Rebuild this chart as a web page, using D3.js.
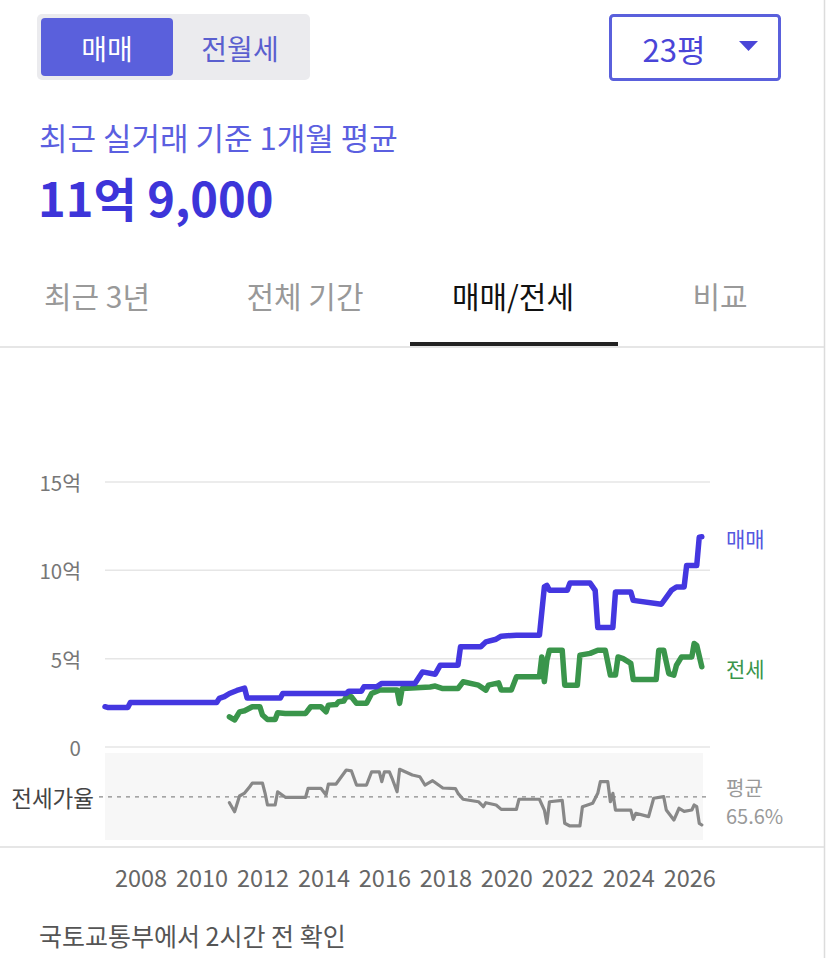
<!DOCTYPE html>
<html><head><meta charset="utf-8">
<script src="https://cdn.jsdelivr.net/npm/d3@7"></script>
<style>
html,body{margin:0;padding:0;background:#fff;}
svg{display:block;font-family:"Noto Sans CJK KR","Noto Sans",sans-serif;}
</style></head>
<body>
<svg id="chart" width="827" height="958"></svg>
<script>
// ---- data ----
const saleData = [
  ["2006-11",2.28],["2006-12",2.24],["2007-08",2.24],["2007-09",2.52],["2010-07",2.52],
  ["2010-08",2.75],["2010-10",2.85],["2010-12",3.03],["2011-03",3.20],["2011-06",3.33],
  ["2011-07",2.77],["2012-08",2.77],["2012-09",3.03],["2014-10",3.03],["2014-11",3.16],
  ["2015-04",3.16],["2015-05",3.41],["2015-10",3.41],["2015-12",3.60],["2017-01",3.60],
  ["2017-04",4.25],["2017-09",4.12],["2017-11",4.63],["2018-06",4.63],["2018-07",5.67],
  ["2019-03",5.67],["2019-05",5.95],["2019-09",6.10],["2019-11",6.27],["2020-05",6.33],
  ["2021-02",6.33],["2021-04",9.06],["2021-05",9.15],["2021-06",8.87],["2022-01",8.87],
  ["2022-02",9.28],["2022-10",9.28],["2022-12",8.87],["2023-01",6.76],["2023-07",6.76],
  ["2023-08",8.77],["2024-02",8.77],["2024-03",8.30],["2025-02",8.08],["2025-06",8.87],
  ["2025-08",9.06],["2025-11",9.06],["2025-12",10.28],["2026-04",10.28],["2026-05",11.88],
  ["2026-06",11.90]
];
const jeonseData = [
  ["2010-12",1.71],["2011-02",1.53],["2011-04",1.99],["2011-06",2.05],["2011-09",2.28],
  ["2011-12",2.28],["2012-01",1.81],["2012-03",1.56],["2012-06",1.56],["2012-07",1.94],
  ["2012-10",1.90],["2013-06",1.90],["2013-08",2.28],["2013-12",2.28],["2014-02",1.99],
  ["2014-03",2.37],["2014-06",2.40],["2014-07",2.56],["2014-09",2.60],["2014-10",2.84],
  ["2014-12",2.84],["2015-02",2.47],["2015-06",2.47],["2015-08",3.03],["2015-11",3.22],
  ["2016-06",3.22],["2016-07",2.47],["2016-08",3.31],["2017-07",3.40],["2017-09",3.45],
  ["2017-12",3.31],["2018-06",3.31],["2018-08",3.69],["2019-02",3.50],["2019-05",3.22],
  ["2019-06",3.50],["2019-10",3.63],["2019-11",3.22],["2020-03",3.22],["2020-05",3.97],
  ["2021-02",3.97],["2021-03",5.10],["2021-04",3.70],["2021-05",4.90],["2021-06",5.48],
  ["2021-11",5.48],["2021-12",3.50],["2022-05",3.50],["2022-06",5.20],["2022-10",5.30],
  ["2023-01",5.48],["2023-04",5.48],["2023-06",4.07],["2023-08",4.07],["2023-09",5.10],
  ["2023-11",5.00],["2024-02",4.73],["2024-03",3.82],["2024-12",3.82],["2025-01",5.48],
  ["2025-03",5.48],["2025-05",4.16],["2025-07",4.07],["2025-08",4.63],["2025-10",5.10],
  ["2026-02",5.10],["2026-03",5.86],["2026-04",5.75],["2026-06",4.54]
];
const ratioData = [
  ["2010-12",59.7],["2011-02",50.6],["2011-04",66.5],["2011-06",69.5],["2011-08",75.9],
  ["2011-09",79.6],["2012-01",79.6],["2012-02",69.5],["2012-03",57.4],["2012-06",57.4],
  ["2012-07",70.8],["2012-10",65.2],["2013-06",65.2],["2013-07",74.3],["2013-12",74.3],
  ["2014-02",67.5],["2014-03",78.6],["2014-06",78.6],["2014-10",92.8],["2014-12",92.0],
  ["2015-02",77.6],["2015-06",77.6],["2015-08",91.0],["2015-11",91.0],["2015-12",81.0],
  ["2016-01",91.0],["2016-03",91.0],["2016-04",84.7],["2016-06",70.8],["2016-07",93.5],
  ["2016-12",87.7],["2017-03",86.0],["2017-05",77.6],["2017-08",82.0],["2017-12",74.6],
  ["2018-05",74.0],["2018-06",69.2],["2018-08",63.2],["2019-02",60.7],["2019-04",55.7],
  ["2019-05",59.7],["2019-09",57.4],["2019-11",53.0],["2020-05",53.0],["2020-06",63.2],
  ["2021-02",63.2],["2021-04",52.3],["2021-05",38.9],["2021-06",60.7],["2021-11",62.0],
  ["2021-12",38.9],["2022-02",36.2],["2022-06",36.2],["2022-07",55.7],["2022-11",59.1],
  ["2023-01",69.2],["2023-02",81.0],["2023-05",81.0],["2023-06",60.7],["2023-07",69.2],
  ["2023-08",52.3],["2024-02",52.3],["2024-03",42.9],["2024-04",49.0],["2024-09",45.6],
  ["2024-11",64.2],["2025-03",65.8],["2025-04",52.3],["2025-07",42.2],["2025-09",54.1],
  ["2025-11",51.0],["2026-02",52.3],["2026-03",57.4],["2026-04",55.7],["2026-05",38.9],
  ["2026-06",37.2]
];
const ratioAverage = 65.6;
const yTicks = [0, 5, 10, 15];
const yTickLabels = ["0", "5억", "10억", "15억"];
const xTickYears = [2008, 2010, 2012, 2014, 2016, 2018, 2020, 2022, 2024, 2026];
const toggleLabels = ["매매", "전월세"];
const tabLabels = ["최근 3년", "전체 기간", "매매/전세", "비교"];
const sizeLabel = "23평";
const subtitle = "최근 실거래 기준 1개월 평균";
const headline = "11억 9,000";
const footer = "국토교통부에서 2시간 전 확인";

// ---- drawing ----
const parse = d3.timeParse("%Y-%m");
const sale = saleData.map(d => ({date: parse(d[0]), v: d[1]}));
const jeonse = jeonseData.map(d => ({date: parse(d[0]), v: d[1]}));
const ratio = ratioData.map(d => ({date: parse(d[0]), v: d[1]}));

const svg = d3.select("#chart");
const BLUE = "#4437e0", GREEN = "#3a954b", ACCENT = "#5a60dc";

// right border
svg.append("line").attr("x1",824.5).attr("x2",824.5).attr("y1",0).attr("y2",958)
  .attr("stroke","#dcdcdc").attr("stroke-width",1.5);

// toggle
svg.append("rect").attr("x",37).attr("y",14).attr("width",273).attr("height",66).attr("rx",5).attr("fill","#ebebee");
svg.append("rect").attr("x",41).attr("y",18).attr("width",132).attr("height",58).attr("rx",4).attr("fill",ACCENT);
svg.append("text").attr("x",107).attr("y",48).attr("text-anchor","middle").attr("dominant-baseline","central")
  .attr("font-size",28).attr("fill","#fff").text(toggleLabels[0]);
svg.append("text").attr("x",240).attr("y",48).attr("text-anchor","middle").attr("dominant-baseline","central")
  .attr("font-size",28).attr("fill","#5a5fcf").text(toggleLabels[1]);

// dropdown
svg.append("rect").attr("x",610.5).attr("y",15.5).attr("width",169).attr("height",64).attr("rx",3)
  .attr("fill","#fff").attr("stroke",ACCENT).attr("stroke-width",3);
svg.append("text").attr("x",674).attr("y",48).attr("text-anchor","middle").attr("dominant-baseline","central")
  .attr("font-size",31).attr("fill","#4a45d8").text(sizeLabel);
svg.append("path").attr("d","M739,41 L758,41 L748.5,51 Z").attr("fill","#4a45d8");

// subtitle & headline
svg.append("text").attr("x",39).attr("y",136).attr("dominant-baseline","central")
  .attr("font-size",31).attr("fill","#5b5fe0").text(subtitle);
svg.append("text").attr("x",38).attr("y",217).attr("font-size",47).attr("font-weight",700)
  .attr("fill","#3d35d9").text(headline);

// tabs
const tabX = [97, 305, 513, 720];
tabLabels.forEach((t,i) => {
  svg.append("text").attr("x",tabX[i]).attr("y",295).attr("text-anchor","middle").attr("dominant-baseline","central")
    .attr("font-size",30).attr("fill", i===2 ? "#111" : "#999").text(t);
});
svg.append("line").attr("x1",0).attr("x2",824).attr("y1",347).attr("y2",347).attr("stroke","#dedede").attr("stroke-width",1.5);
svg.append("rect").attr("x",410).attr("y",342).attr("width",208).attr("height",4).attr("fill","#222");

// scales
const x = d3.scaleTime().domain([parse("2006-11"), new Date(2026,5,15)]).range([105, 703]);
const y = d3.scaleLinear().domain([0, 15]).range([747, 482]);
const yr = d3.scaleLinear().domain([22, 110]).range([840, 753]);

// grid + y labels
yTicks.forEach((t,i) => {
  svg.append("line").attr("x1",105).attr("x2",710).attr("y1",y(t)).attr("y2",y(t))
    .attr("stroke","#e6e6e6").attr("stroke-width",1.5);
  svg.append("text").attr("x",81).attr("y",y(t)).attr("text-anchor","end").attr("dominant-baseline","central")
    .attr("font-size",20.5).attr("fill","#777").text(yTickLabels[i]);
});

// ratio panel
svg.append("rect").attr("x",105).attr("y",yr(110)).attr("width",598).attr("height",yr(22)-yr(110)).attr("fill","#f7f7f7");
svg.append("line").attr("x1",99).attr("x2",710).attr("y1",yr(ratioAverage)).attr("y2",yr(ratioAverage))
  .attr("stroke","#8a8a8a").attr("stroke-width",1.3).attr("stroke-dasharray","4,5");
svg.append("text").attr("x",94).attr("y",yr(ratioAverage)).attr("text-anchor","end").attr("dominant-baseline","central")
  .attr("font-size",22.5).attr("fill","#444").text("전세가율");
svg.append("text").attr("x",726).attr("y",yr(ratioAverage)-9).attr("dominant-baseline","central")
  .attr("font-size",20).attr("fill","#999").text("평균");
svg.append("text").attr("x",726).attr("y",yr(ratioAverage)+19).attr("dominant-baseline","central")
  .attr("font-size",20).attr("fill","#999").text(ratioAverage + "%");

svg.append("path").datum(ratio).attr("d", d3.line().x(d => x(d.date)).y(d => yr(d.v)))
  .attr("fill","none").attr("stroke","#888").attr("stroke-width",3.2).attr("stroke-linejoin","round").attr("stroke-linecap","round");

svg.append("path").datum(jeonse).attr("d", d3.line().x(d => x(d.date)).y(d => y(d.v)))
  .attr("fill","none").attr("stroke",GREEN).attr("stroke-width",5.5).attr("stroke-linejoin","round").attr("stroke-linecap","round");
svg.append("path").datum(sale).attr("d", d3.line().x(d => x(d.date)).y(d => y(d.v)))
  .attr("fill","none").attr("stroke",BLUE).attr("stroke-width",5.5).attr("stroke-linejoin","round").attr("stroke-linecap","round");

// series labels
svg.append("text").attr("x",726).attr("y",538).attr("dominant-baseline","central").attr("font-size",21).attr("fill","#5558e0").text("매매");
svg.append("text").attr("x",726).attr("y",668).attr("dominant-baseline","central").attr("font-size",21).attr("fill",GREEN).text("전세");

// bottom separator + x axis
svg.append("line").attr("x1",0).attr("x2",824).attr("y1",847).attr("y2",847).attr("stroke","#dedede").attr("stroke-width",1.5);
const xAxis = svg.append("g").attr("transform","translate(0,848)")
  .call(d3.axisBottom(x).tickValues(xTickYears.map(yv => new Date(yv,0,1))).tickFormat(d3.timeFormat("%Y")).tickSize(0).tickPadding(22));
xAxis.select(".domain").remove();
xAxis.selectAll("text").attr("font-size",23.5).attr("fill","#666").attr("font-family","Noto Sans CJK KR, sans-serif");

// footer
svg.append("text").attr("x",39).attr("y",935).attr("dominant-baseline","central").attr("font-size",25).attr("fill","#555").text(footer);
</script>
</body></html>
